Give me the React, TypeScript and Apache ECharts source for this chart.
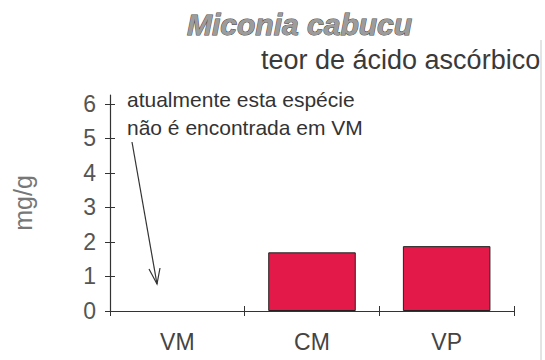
import React, { useEffect, useRef } from "react";
import * as echarts from "echarts";

const categories = ["VM", "CM", "VP"];
const values: (number | null)[] = [null, 1.7, 1.88];
const yTicks = [0, 1, 2, 3, 4, 5, 6];
const titleText = "Miconia cabucu";
const subtitleText = "teor de ácido ascórbico";
const yName = "mg/g";
const noteLines = ["atualmente esta espécie", "não é encontrada em VM"];

const FONT = "'Liberation Sans', Arial, sans-serif";

export default function App() {
  const ref = useRef<HTMLDivElement>(null);
  useEffect(() => {
    if (!ref.current) return;
    const chart = echarts.init(ref.current, null, { renderer: "svg" });
    const yBase = {
      type: "value",
      min: 0,
      max: 6.26,
      interval: 1,
      position: "left",
      splitLine: { show: false },
    };
    chart.setOption({
      animation: false,
      backgroundColor: "#ffffff",
      title: [
        {
          text: titleText,
          left: 182,
          top: 4,
          textStyle: {
            fontFamily: FONT,
            fontStyle: "italic",
            fontWeight: "bold",
            fontSize: 30,
            color: "#9c9c9c",
            textBorderColor: "#4a4a4a",
            textBorderWidth: 1,
          },
        },
        {
          text: subtitleText,
          left: 256,
          top: 41,
          textStyle: {
            fontFamily: FONT,
            fontWeight: "normal",
            fontSize: 27,
            color: "#3a3a3a",
          },
        },
      ],
      grid: { left: 110, right: 31, top: 95, bottom: 49, containLabel: false },
      xAxis: [
        {
          type: "category",
          data: categories,
          position: "bottom",
          axisLine: { lineStyle: { color: "#333", width: 1.2 } },
          axisTick: { show: true, inside: false, length: 5, lineStyle: { color: "#333" } },
          axisLabel: {
            margin: 19,
            fontFamily: FONT,
            fontSize: 23,
            color: "#444",
          },
        },
        {
          type: "category",
          data: categories,
          position: "bottom",
          axisLine: { show: false },
          axisTick: { show: true, inside: true, length: 5, lineStyle: { color: "#333" } },
          axisLabel: { show: false },
        },
      ],
      yAxis: [
        {
          ...yBase,
          name: yName,
          nameLocation: "middle",
          nameGap: 75,
          nameRotate: 90,
          nameTextStyle: { fontFamily: FONT, fontSize: 25, color: "#777" },
          axisLine: { show: true, lineStyle: { color: "#333", width: 1.2 } },
          axisTick: { show: true, inside: false, length: 5, customValues: yTicks, lineStyle: { color: "#333" } },
          axisLabel: {
            customValues: yTicks,
            margin: 14,
            fontFamily: FONT,
            fontSize: 23,
            color: "#555",
          },
        },
        {
          ...yBase,
          axisLine: { show: false },
          axisTick: { show: true, inside: true, length: 5, customValues: yTicks, lineStyle: { color: "#333" } },
          axisLabel: { show: false },
        },
      ],
      series: [
        {
          type: "bar",
          data: values,
          barWidth: "65%",
          itemStyle: { color: "#e3194a", borderColor: "#222", borderWidth: 1 },
        },
      ],
      graphic: [
        {
          type: "text",
          left: 127,
          top: 85,
          style: {
            text: noteLines.join("\n"),
            fontFamily: FONT,
            fontSize: 21,
            lineHeight: 28,
            fill: "#333",
          },
        },
        {
          type: "line",
          shape: { x1: 132, y1: 142, x2: 157, y2: 284 },
          style: { stroke: "#333", lineWidth: 1.2 },
        },
        {
          type: "polyline",
          shape: { points: [[149, 269], [157, 284], [160, 268]] },
          style: { stroke: "#333", lineWidth: 1.2, fill: "none" },
        },
        {
          type: "line",
          shape: { x1: 541, y1: 40, x2: 541, y2: 360 },
          style: { stroke: "#c8c8c8", lineWidth: 1 },
        },
      ],
    });
    return () => chart.dispose();
  }, []);
  return <div ref={ref} style={{ width: 545, height: 360, position: "absolute", left: 0, top: 0 }} />;
}
